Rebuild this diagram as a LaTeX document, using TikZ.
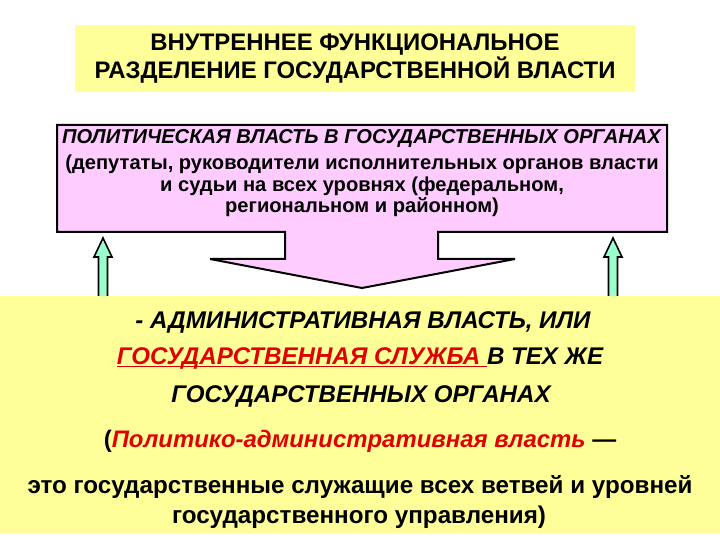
\documentclass[tikz,border=0pt]{standalone}
\usepackage{fontspec}
\setmainfont{Liberation Sans}
\definecolor{paleyellow}{RGB}{255,255,153}
\definecolor{palepink}{RGB}{255,204,255}
\definecolor{palegreen}{RGB}{153,255,204}
\definecolor{darkred}{RGB}{225,0,0}
\newcommand{\redline}[1]{\setbox0\hbox{#1}\rlap{\rule[-3bp]{\wd0}{1.3bp}}\box0}
\tikzset{
  bigtext/.style={font=\bfseries\itshape\fontsize{24.2}{28}\selectfont, inner sep=0pt},
  greenarrow/.style={fill=palegreen, draw=black, line width=1.6bp, line join=miter}
}
\begin{document}
\begin{tikzpicture}[x=1bp, y=-1bp]
        \useasboundingbox (0,0) rectangle (720,540);
        % title
        \node[fill=paleyellow, minimum width=560bp, minimum height=67bp, align=center,
              font=\bfseries\fontsize{24}{28}\selectfont] (title) at (355,58.5)
              {ВНУТРЕННЕЕ ФУНКЦИОНАЛЬНОЕ\\РАЗДЕЛЕНИЕ ГОСУДАРСТВЕННОЙ ВЛАСТИ};
        
        % callout with the political power
        \draw[fill=palepink, line width=2bp, line join=miter]
              (57,125) -- (667,125) -- (667,232) -- (438,232) -- (438,259) -- (515,259)
              -- (362,288) -- (210,259) -- (285,259) -- (285,232) -- (57,232) -- cycle;
        \node[align=center, inner sep=0pt, font=\fontsize{20.2}{21.5}\selectfont\bfseries] (polit) at (362,173)
              {\textit{ПОЛИТИЧЕСКАЯ ВЛАСТЬ В ГОСУДАРСТВЕННЫХ ОРГАНАХ}\\[5bp]
               (депутаты, руководители исполнительных органов власти\\
               и судьи на всех уровнях (федеральном,\\
               региональном и районном)};
        
        % green arrows up to the callout
        \draw[greenarrow] (103,238) -- (112,257) -- (107.5,257) -- (107.5,297)
              -- (98.5,297) -- (98.5,257) -- (94,257) -- cycle;
        \draw[greenarrow] (613,238) -- (622,257) -- (617.5,257) -- (617.5,297)
              -- (608.5,297) -- (608.5,257) -- (604,257) -- cycle;
        
        % administrative power
        \node[fill=paleyellow, minimum width=720bp, minimum height=237bp, inner sep=0pt] (admin) at (360,414.5) {};
        \node[bigtext] (adm1) at (363,322) {- АДМИНИСТРАТИВНАЯ ВЛАСТЬ, ИЛИ};
        \node[bigtext] (adm2) at (360,358)
              {\textcolor{darkred}{\redline{ГОСУДАРСТВЕННАЯ СЛУЖБА\ }}В ТЕХ ЖЕ};
        \node[bigtext] (adm3) at (361,396) {ГОСУДАРСТВЕННЫХ ОРГАНАХ};
        \node[inner sep=0pt, font=\bfseries\fontsize{24}{28}\selectfont] (adm4) at (360,441)
              {(\textcolor{darkred}{\textit{Политико-административная власть}} —};
        \node[inner sep=0pt, font=\bfseries\fontsize{24.3}{28}\selectfont] (adm5) at (360,487)
              {это государственные служащие всех ветвей и уровней};
        \node[inner sep=0pt, font=\bfseries\fontsize{24.3}{28}\selectfont] (adm6) at (359,517)
              {государственного управления)};
\end{tikzpicture}
\end{document}
